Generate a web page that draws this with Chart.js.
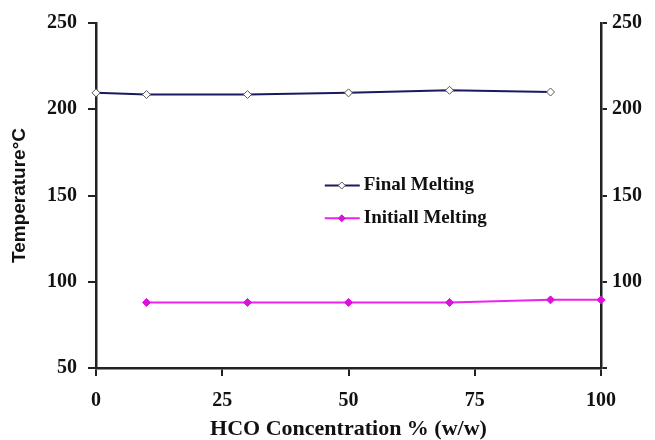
<!DOCTYPE html>
<html>
<head>
<meta charset="utf-8">
<script src="https://cdn.jsdelivr.net/npm/chart.js@4"></script>
<style>
  body { margin: 0; background: #fff; }
</style>
</head>
<body>
<canvas id="meltChart" width="655" height="440"></canvas>
<script>
// HCO concentration (% w/w) for each series
const finalX = [0, 10, 30, 50, 70, 90];
const initialX = [10, 30, 50, 70, 90, 100];
// Melting temperatures (°C)
const finalMelting = [209.5, 208.5, 208.5, 209.5, 211, 210];
const initialMelting = [88, 88, 88, 88, 89.5, 89.5];
const xTicks = [0, 25, 50, 75, 100];
const yTicks = [50, 100, 150, 200, 250];

const serif = '"Liberation Serif", "Times New Roman", serif';

function toPoints(xs, ys) {
    return xs.map((x, i) => ({ x: x, y: ys[i] }));
}

// legend drawn inside the plot area, like the original
const innerLegend = {
    id: 'innerLegend',
    afterDraw(chart) {
        const { ctx, chartArea } = chart;
        const w = chartArea.right - chartArea.left;
        const h = chartArea.bottom - chartArea.top;
        const x0 = chartArea.left + w * 0.453;
        const rows = [0.471, 0.566];
        ctx.save();
        ctx.font = 'bold 19px ' + serif;
        ctx.textBaseline = 'middle';
        chart.data.datasets.forEach((ds, i) => {
            const y = chartArea.top + h * rows[i];
            ctx.strokeStyle = ds.borderColor;
            ctx.lineWidth = 2;
            ctx.beginPath();
            ctx.moveTo(x0, y);
            ctx.lineTo(x0 + 35, y);
            ctx.stroke();
            // diamond marker
            const cx = x0 + 17, r = 3.5;
            ctx.beginPath();
            ctx.moveTo(cx, y - r);
            ctx.lineTo(cx + r, y);
            ctx.lineTo(cx, y + r);
            ctx.lineTo(cx - r, y);
            ctx.closePath();
            ctx.fillStyle = ds.pointBackgroundColor;
            ctx.fill();
            ctx.lineWidth = 1;
            ctx.strokeStyle = ds.pointBorderColor;
            ctx.stroke();
            ctx.fillStyle = '#111';
            ctx.fillText(ds.label, x0 + 39, y);
        });
        ctx.restore();
    }
};

function axisFit(prop, size) {
    return function (scale) { scale[prop] = size; };
}

const ctx = document.getElementById('meltChart').getContext('2d');
new Chart(ctx, {
    type: 'line',
    data: {
        datasets: [{
            label: 'Final Melting',
            data: toPoints(finalX, finalMelting),
            borderColor: '#1a1a5e',
            borderWidth: 2,
            pointStyle: 'rectRot',
            pointRadius: 4,
            pointBackgroundColor: '#ffffff',
            pointBorderColor: '#555555',
            pointBorderWidth: 1,
            clip: false,
            yAxisID: 'y'
        }, {
            label: 'Initiall Melting',
            data: toPoints(initialX, initialMelting),
            borderColor: '#ee22ee',
            borderWidth: 2,
            pointStyle: 'rectRot',
            pointRadius: 4,
            pointBackgroundColor: '#dd11dd',
            pointBorderColor: '#dd11dd',
            pointBorderWidth: 1,
            clip: false,
            yAxisID: 'y'
        }]
    },
    options: {
        responsive: false,
        animation: false,
        layout: { padding: { top: 18, left: 0, right: 0, bottom: 0 } },
        plugins: {
            legend: { display: false },
            tooltip: { enabled: false }
        },
        scales: {
            x: {
                type: 'linear',
                position: 'bottom',
                min: 0,
                max: 100,
                afterBuildTicks: s => { s.ticks = xTicks.map(v => ({ value: v })); },
                afterFit: axisFit('height', 72),
                grid: { drawOnChartArea: false, tickLength: 8, color: '#222', lineWidth: 2 },
                border: { color: '#222', width: 2.5 },
                ticks: { color: '#111', padding: 13, font: { family: serif, size: 20, weight: 'bold' } },
                title: {
                    display: true,
                    text: 'HCO Concentration % (w/w)',
                    color: '#111',
                    padding: { top: 0, bottom: 0 },
                    font: { family: serif, size: 22, weight: 'bold', lineHeight: 1 }
                }
            },
            y: {
                position: 'left',
                min: 50,
                max: 250,
                afterBuildTicks: s => { s.ticks = yTicks.map(v => ({ value: v })); },
                afterFit: axisFit('width', 96),
                grid: { drawOnChartArea: false, tickLength: 8, color: '#222', lineWidth: 2 },
                border: { color: '#222', width: 2.5 },
                ticks: { color: '#111', padding: 11, font: { family: serif, size: 20, weight: 'bold' } },
                title: {
                    display: true,
                    text: 'Temperature°C',
                    color: '#111',
                    padding: { top: 8, bottom: 0 },
                    font: { family: '"Liberation Sans", Arial, sans-serif', size: 19, weight: 'bold' }
                }
            },
            y2: {
                position: 'right',
                min: 50,
                max: 250,
                afterBuildTicks: s => { s.ticks = yTicks.map(v => ({ value: v })); },
                afterFit: axisFit('width', 54),
                grid: { drawOnChartArea: false, tickLength: 6, color: '#222', lineWidth: 2 },
                border: { color: '#222', width: 2.5 },
                ticks: {
                    color: '#111',
                    padding: 5,
                    font: { family: serif, size: 20, weight: 'bold' },
                    callback: v => (v === 50 ? '' : v)
                }
            }
        }
    },
    plugins: [innerLegend]
});
</script>
</body>
</html>
